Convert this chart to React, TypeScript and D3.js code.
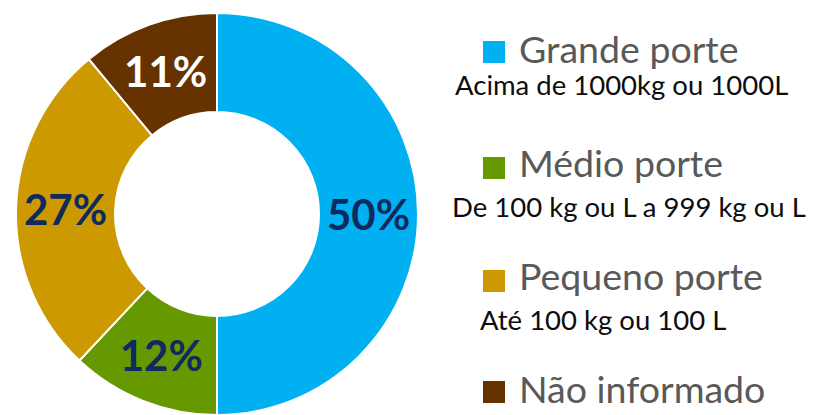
import React from "react";
import * as d3 from "d3";

const categories = ["Grande porte", "Médio porte", "Pequeno porte", "Não informado"];
const descriptions = ["Acima de 1000kg ou 1000L", "De 100 kg ou L a 999 kg ou L", "Até 100 kg ou 100 L", ""];
const values = [50, 12, 27, 11];
const colors = ["#00B0F0", "#669900", "#CC9900", "#663300"];
const labelColors = ["#0F2A5E", "#0F2A5E", "#0F2A5E", "#FFFFFF"];

const W = 817;
const H = 415;
const cx = 217;
const cy = 214;
const outerR = 201;
const innerR = 102;

// legend layout
const legendSquareX = 483;
const legendTextX = 519;
const legendSquareY = [41, 157, 270, 381];
const legendBaseline = [63, 177, 290, 403];
const descX = [455, 452, 480, 0];
const descBaseline = [95, 217, 330, 0];

export default function App() {
  const pie = d3
    .pie<number>()
    .sort(null)
    .value((d) => d)
    .startAngle(0)
    .endAngle(2 * Math.PI);
  const arcs = pie(values);
  const arcGen = d3.arc<d3.PieArcDatum<number>>().innerRadius(innerR).outerRadius(outerR);
  const total = d3.sum(values);

  return (
    <svg
      width={W}
      height={H}
      style={{ position: "absolute", left: 0, top: 0, background: "#fff" }}
    >
      <g transform={`translate(${cx},${cy})`}>
        {arcs.map((a, i) => (
          <path key={i} d={arcGen(a) || ""} fill={colors[i]} stroke="#fff" strokeWidth={2} />
        ))}
        {arcs.map((a, i) => {
          const [x, y] = arcGen.centroid(a);
          return (
            <text
              key={"l" + i}
              x={x}
              y={y}
              dy="0.38em"
              textAnchor="middle"
              fontFamily="Lato, sans-serif"
              fontWeight="bold"
              fontSize={42}
              fill={labelColors[i]}
            >
              {Math.round((values[i] / total) * 100)}%
            </text>
          );
        })}
      </g>
      <g>
        {categories.map((c, i) => (
          <g key={"lg" + i}>
            <rect x={legendSquareX} y={legendSquareY[i]} width={22} height={22} fill={colors[i]} />
            <text
              x={legendTextX}
              y={legendBaseline[i]}
              fontFamily="Lato, sans-serif"
              fontSize={37.5}
              fill="#595959"
            >
              {c}
            </text>
            {descriptions[i] && (
              <text
                x={descX[i]}
                y={descBaseline[i]}
                fontFamily="Lato, sans-serif"
                fontSize={27.5}
                fill="#0D0D0D"
              >
                {descriptions[i]}
              </text>
            )}
          </g>
        ))}
      </g>
    </svg>
  );
}
